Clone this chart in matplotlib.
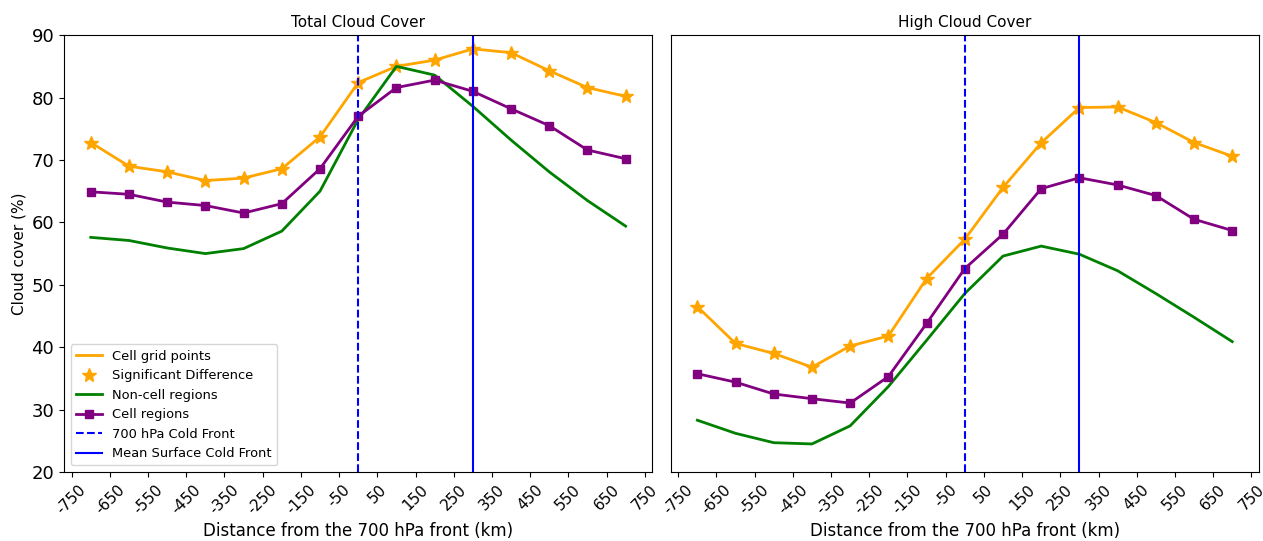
import numpy as np
import matplotlib
matplotlib.use('Agg')
import matplotlib.pyplot as plt

# distance bins from the 700 hPa front (km)
distance = np.arange(-700, 701, 100)
xticks = np.arange(-750, 751, 100)

# Total cloud cover (%)
total_cell_grid = [72.8, 69.0, 68.1, 66.7, 67.1, 68.6, 73.7, 82.4, 85.0, 86.0, 87.8, 87.2, 84.3, 81.6, 80.2]
total_cell_regions = [64.9, 64.5, 63.25, 62.7, 61.5, 63.0, 68.6, 77.0, 81.6, 82.8, 81.0, 78.2, 75.5, 71.6, 70.2]
total_non_cell = [57.6, 57.1, 55.9, 55.0, 55.8, 58.6, 65.0, 76.5, 85.0, 83.6, 78.6, 73.2, 68.1, 63.5, 59.4]

# High cloud cover (%)
high_cell_grid = [46.5, 40.6, 39.0, 36.8, 40.2, 41.8, 51.0, 57.3, 65.6, 72.75, 78.4, 78.5, 76.0, 72.8, 70.6]
high_cell_regions = [35.75, 34.4, 32.5, 31.75, 31.05, 35.3, 43.8, 52.6, 58.1, 65.4, 67.15, 66.0, 64.3, 60.5, 58.7]
high_non_cell = [28.3, 26.2, 24.7, 24.5, 27.4, 33.7, 41.1, 48.6, 54.6, 56.2, 54.9, 52.25, 48.6, 44.8, 40.9]

front_700 = 0
surface_front = 300

panels = [
    ('Total Cloud Cover', total_cell_grid, total_non_cell, total_cell_regions),
    ('High Cloud Cover', high_cell_grid, high_non_cell, high_cell_regions),
]

fig, axes = plt.subplots(1, 2, figsize=(12.63, 5.41), dpi=100, sharey=True)
fig.subplots_adjust(left=0.0507, right=0.9968, top=0.935, bottom=0.1275, wspace=0.031)

for ax, (title, cell_grid, non_cell, cell_regions) in zip(axes, panels):
    ax.plot(distance, cell_grid, color='orange', linewidth=2, label='Cell grid points')
    ax.plot(distance, cell_grid, linestyle='none', marker='*', color='orange',
            markersize=10, label='Significant Difference')
    ax.plot(distance, non_cell, color='green', linewidth=2, label='Non-cell regions')
    ax.plot(distance, cell_regions, color='purple', linewidth=2, marker='s',
            markersize=6, label='Cell regions')
    ax.axvline(front_700, color='blue', linestyle='--', linewidth=1.5, label='700 hPa Cold Front')
    ax.axvline(surface_front, color='blue', linestyle='-', linewidth=1.5, label='Mean Surface Cold Front')

    ax.set_title(title, fontsize=11)
    ax.set_xticks(xticks)
    ax.set_xticklabels([str(t) for t in xticks], rotation=45, fontsize=11)
    ax.set_xlabel('Distance from the 700 hPa front (km)', fontsize=12)
    ax.set_ylim(20, 90)

axes[0].set_ylabel('Cloud cover (%)', fontsize=11)
axes[0].tick_params(axis='y', labelsize=13)
axes[1].tick_params(axis='y', left=False, labelleft=False)
axes[0].legend(loc='lower left', fontsize=9.4)

plt.savefig('out.png', dpi=100)
